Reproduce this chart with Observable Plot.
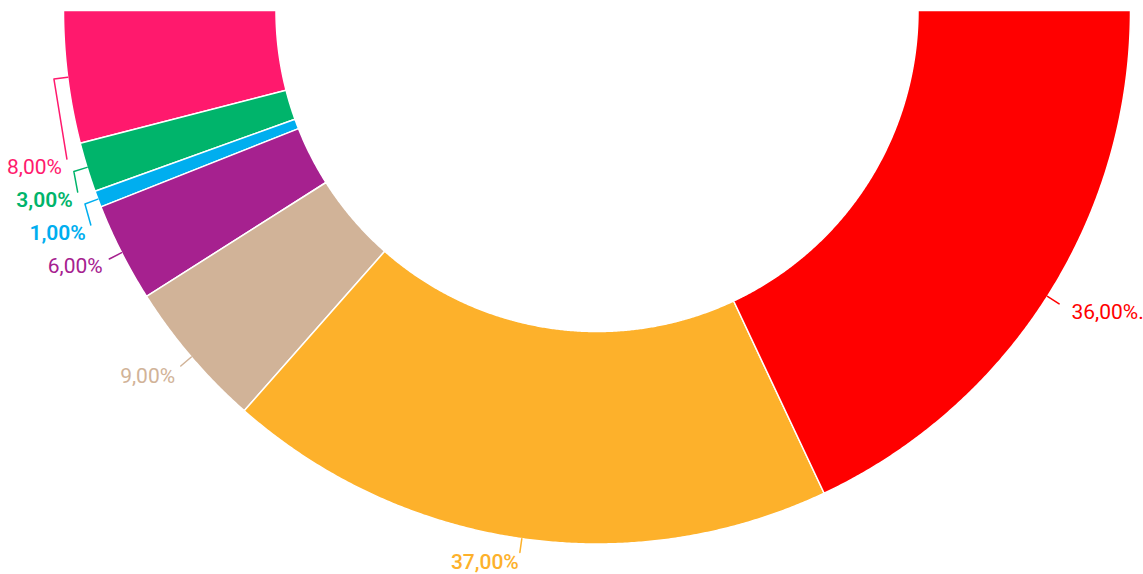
<!DOCTYPE html>
<html><head><meta charset="utf-8">
<script src="https://cdn.jsdelivr.net/npm/d3@7"></script>
<script src="https://cdn.jsdelivr.net/npm/@observablehq/plot@0.6"></script>
<style>html,body{margin:0;padding:0;background:#fff;overflow:hidden}</style>
</head><body><div id="chart"></div>
<script>
const categories = ["Rosa", "Verde", "Azul", "Morado", "Beige", "Naranja", "Rojo"];
const values = [8, 3, 1, 6, 9, 37, 36];
const labels = ["8,00%", "3,00%", "1,00%", "6,00%", "9,00%", "37,00%", "36,00%."];
const colors = ["#FF196D", "#00B46B", "#00AEEF", "#A6218F", "#D1B398", "#FDB12B", "#FF0000"];

const W = 1143, H = 574;
const CX = 596.5, CY = 10, R = 533.5, RI = 321 / 533.5;
const px = 1 / R; // one pixel in data units
const xDomain = [-CX / R, (W - CX) / R];
const yDomain = [-(H - CY) / R, CY / R];
const pt = (r, a) => [-r * Math.cos(a), -r * Math.sin(a)];
const heavy = new Set(["Verde", "Azul"]);
const medium = new Set(["Naranja"]);

const total = d3.sum(values);
let cum = 0;
const slices = values.map((v, i) => {
  const a0 = cum / total * Math.PI; cum += v;
  const a1 = cum / total * Math.PI;
  return {i, key: categories[i], a0, a1, mid: (a0 + a1) / 2, color: colors[i], label: labels[i]};
});

// slice polygons
const poly = [];
for (const s of slices) {
  const n = Math.max(2, Math.ceil((s.a1 - s.a0) / (Math.PI / 720)));
  for (let j = 0; j <= n; j++) { const a = s.a0 + (s.a1 - s.a0) * j / n; const [x, y] = pt(1, a); poly.push({k: s.key, c: s.color, x, y}); }
  for (let j = n; j >= 0; j--) { const a = s.a0 + (s.a1 - s.a0) * j / n; const [x, y] = pt(RI, a); poly.push({k: s.key, c: s.color, x, y}); }
}

// labels
const LR = 1.04;
for (const s of slices) {
  const [x, y] = pt(LR, s.mid);
  s.lx = x + (x > 0 ? 6 * px : 0);
  s.ly = y - Math.sin(s.mid) * 8 * px;
  s.left = x < 0;
  s.stacked = false;
  s.weight = heavy.has(s.key) ? 600 : medium.has(s.key) ? 500 : 400;
}
// keep the bottom label inside the frame
for (const s of slices) s.ly = Math.max(s.ly, yDomain[0] + 12 * px);
const left = slices.filter(s => s.left).sort((a, b) => b.mid - a.mid);
const gap = 33 * px;
for (let k = 1; k < left.length; k++) {
  const prev = left[k - 1], cur = left[k];
  if ((prev.mid - cur.mid) * 180 / Math.PI < 12) {
    cur.stacked = true;
    cur.ly = prev.ly + gap;
    cur.lx = -Math.sqrt(1.045 * 1.045 - cur.ly * cur.ly);
  }
}
const leaders = [];
for (const s of slices) {
  const [x0, y0] = pt(1.0, s.mid);
  const [x1, y1] = pt(1.026, s.mid);
  leaders.push({k: s.key, c: s.color, x: x0, y: y0});
  leaders.push({k: s.key, c: s.color, x: x1, y: y1});
  if (s.stacked) leaders.push({k: s.key, c: s.color, x: s.lx + 5 * px, y: s.ly + 8 * px});
}

const textMarks = [];
for (const w of [400, 500, 600]) {
  for (const side of [true, false]) {
    const d = slices.filter(s => s.left === side && s.weight === w);
    if (d.length) textMarks.push(Plot.text(d, {x: "lx", y: "ly", text: "label", fill: "color", textAnchor: side ? "end" : "start", fontSize: 21, fontWeight: w}));
  }
}

const chart = Plot.plot({
  width: W, height: H, margin: 0,
  x: {domain: xDomain, axis: null},
  y: {domain: yDomain, axis: null},
  color: {type: "identity"},
  style: {fontFamily: "Roboto, 'Open Sans', sans-serif", background: "#fff"},
  marks: [
    Plot.line(poly, {x: "x", y: "y", z: "k", fill: "c", stroke: "white", strokeWidth: 1.5, curve: "linear-closed"}),
    Plot.line(leaders, {x: "x", y: "y", z: "k", stroke: "c", strokeWidth: 1.5}),
    ...textMarks
  ]
});
document.getElementById("chart").appendChild(chart);
</script>
</body></html>
